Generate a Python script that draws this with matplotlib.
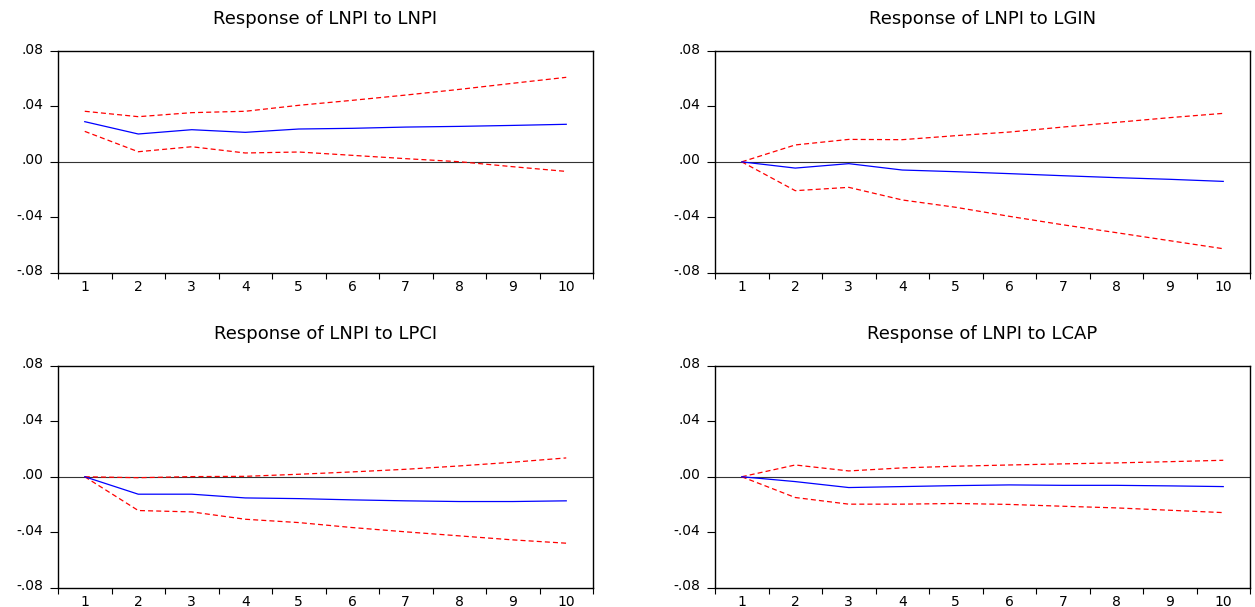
import matplotlib
matplotlib.use("Agg")
import matplotlib.pyplot as plt
import matplotlib.transforms as mtransforms
import numpy as np

periods = list(range(1, 11))
titles = ["Response of LNPI to LNPI", "Response of LNPI to LGIN",
          "Response of LNPI to LPCI", "Response of LNPI to LCAP"]

lnpi_resp = [0.0290, 0.0201, 0.0232, 0.0213, 0.0237, 0.0242, 0.0251, 0.0256, 0.0263, 0.0271]
lnpi_up = [0.0365, 0.0326, 0.0355, 0.0365, 0.0408, 0.0444, 0.0482, 0.0523, 0.0567, 0.0610]
lnpi_lo = [0.0220, 0.0073, 0.0109, 0.0064, 0.0071, 0.0047, 0.0023, 0.0001, -0.0035, -0.0069]

lgin_resp = [0.0, -0.0045, -0.0013, -0.0059, -0.0071, -0.0085, -0.0100, -0.0114, -0.0126, -0.0141]
lgin_up = [0.0, 0.0122, 0.0162, 0.0160, 0.0189, 0.0215, 0.0251, 0.0285, 0.0319, 0.0350]
lgin_lo = [0.0, -0.0208, -0.0184, -0.0275, -0.0328, -0.0393, -0.0454, -0.0511, -0.0569, -0.0627]

lpci_resp = [0.0, -0.0126, -0.0126, -0.0153, -0.0158, -0.0167, -0.0174, -0.0179, -0.0179, -0.0174]
lpci_up = [0.0, -0.0007, 0.0001, 0.0003, 0.0018, 0.0035, 0.0054, 0.0078, 0.0105, 0.0136]
lpci_lo = [0.0, -0.0244, -0.0254, -0.0307, -0.0331, -0.0367, -0.0398, -0.0427, -0.0456, -0.0480]

lcap_resp = [0.0, -0.0035, -0.0078, -0.0071, -0.0064, -0.0059, -0.0062, -0.0062, -0.0066, -0.0071]
lcap_up = [0.0, 0.0085, 0.0042, 0.0064, 0.0076, 0.0085, 0.0093, 0.0100, 0.0109, 0.0119]
lcap_lo = [0.0, -0.0150, -0.0198, -0.0198, -0.0193, -0.0200, -0.0213, -0.0225, -0.0242, -0.0259]

yticks = [-0.08, -0.04, 0.0, 0.04, 0.08]
ytick_labels = ["-.08", "-.04", ".00", ".04", ".08"]

series = [(lnpi_resp, lnpi_up, lnpi_lo), (lgin_resp, lgin_up, lgin_lo),
          (lpci_resp, lpci_up, lpci_lo), (lcap_resp, lcap_up, lcap_lo)]

plt.rcParams['font.family'] = ['DejaVu Sans']

W, H = 1255, 607
fig = plt.figure(figsize=(W / 100, H / 100), dpi=100)

# axes boxes in pixels: (left, top, right, bottom)
boxes = [(58, 51, 593, 272.7), (715, 51, 1250, 272.7),
         (58, 366, 593, 587.5), (715, 366, 1250, 587.5)]

offset = mtransforms.ScaledTranslation(0, 3 / 100, fig.dpi_scale_trans)

for (l, t, r, b), title, (resp, up, lo) in zip(boxes, titles, series):
    ax = fig.add_axes([l / W, 1 - b / H, (r - l) / W, (b - t) / H])
    ax.plot(periods, up, color='#ff0000', lw=0.9, ls=(0, (4, 2.5)))
    ax.plot(periods, lo, color='#ff0000', lw=0.9, ls=(0, (4, 2.5)))
    ax.plot(periods, resp, color='#0000ff', lw=0.9)
    ax.axhline(0, color='#333333', lw=0.8, zorder=0)
    ax.set_xlim(0.5, 10.5)
    ax.set_ylim(-0.08, 0.08)
    ax.set_xticks(np.arange(0.5, 11, 1.0))
    ax.set_xticklabels([])
    ax.set_xticks(periods, minor=True)
    ax.set_xticklabels([str(p) for p in periods], minor=True, fontsize=10)
    ax.tick_params(axis='x', which='major', direction='out', length=4.5, width=0.8)
    ax.tick_params(axis='x', which='minor', length=0, pad=5.5)
    ax.set_yticks(yticks)
    ax.set_yticklabels(ytick_labels, fontsize=10)
    ax.tick_params(axis='y', direction='out', length=6, width=0.8, pad=4.5)
    for lab in ax.get_yticklabels():
        lab.set_transform(lab.get_transform() + offset)
    for s in ax.spines.values():
        s.set_linewidth(1.0)
    ax.set_title(title, fontsize=13, pad=19.5)

fig.savefig("out.png", dpi=100)
